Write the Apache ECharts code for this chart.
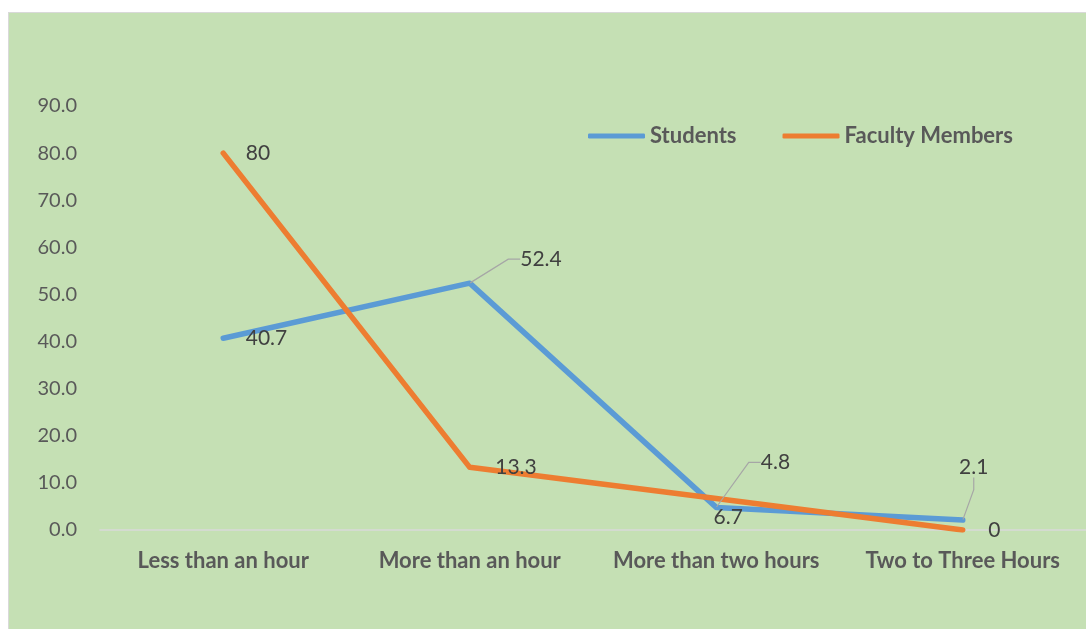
<!DOCTYPE html>
<html>
<head>
<meta charset="utf-8">
<script src="https://cdn.jsdelivr.net/npm/echarts@6/dist/echarts.min.js"></script>
<style>
  html, body { margin: 0; padding: 0; background: #ffffff; }
  #panel {
    position: absolute; left: 8px; top: 12px; width: 1078px; height: 616px;
    background: #C5E0B4; border-left: 1px solid #D9D9D9; border-top: 1px solid #D9D9D9;
  }
  #chart { position: absolute; left: 0; top: 0; width: 1086px; height: 630px; }
</style>
</head>
<body>
<div id="panel"></div>
<div id="chart"></div>
<script>
// Time spent per session, in percent
const categories = ['Less than an hour', 'More than an hour', 'More than two hours', 'Two to Three Hours'];
const students = [40.7, 52.4, 4.8, 2.1];
const faculty = [80, 13.3, 6.7, 0];
const seriesNames = ['Students', 'Faculty Members'];
const yTicks = { min: 0, max: 90, interval: 10 };

const FONT = 'Lato, "Open Sans", sans-serif';
const LABEL_COLOR = '#404040';
const AXIS_COLOR = '#595959';

// Placement of each value label (position + nudge), by series and index
const labelPlacement = [
  [
    { position: 'right', distance: 22 },
    { position: 'right', distance: 22, dx: 28, dy: -24, leader: true },
    { position: 'right', distance: 22, dx: 22, dy: -45, leader: true },
    { position: 'top', distance: 5, dx: 11, dy: -37, leader: true }
  ],
  [
    { position: 'right', distance: 22 },
    { position: 'right', distance: 25 },
    { position: 'bottom', distance: 8, dx: 12 },
    { position: 'right', distance: 25 }
  ]
];

function buildData(values, sIdx) {
  return values.map(function (v, i) {
    const p = labelPlacement[sIdx][i];
    return {
      value: v,
      label: { position: p.position, distance: p.distance },
      labelLine: { show: !!p.leader, length2: 12, lineStyle: { color: '#A6A6A6', width: 1.2 } }
    };
  });
}

function layoutFor(sIdx) {
  return function (params) {
    const p = labelPlacement[sIdx][params.dataIndex];
    return { dx: p.dx || 0, dy: p.dy || 0 };
  };
}

const colors = ['#5B9BD5', '#ED7D31'];

const chart = echarts.init(document.getElementById('chart'), null, { renderer: 'canvas' });
chart.setOption({
  backgroundColor: 'transparent',
  animation: false,
  color: colors,
  grid: { left: 100, top: 106, width: 994, height: 424, containLabel: false },
  legend: {
    left: 583, top: 120,
    itemWidth: 57, itemHeight: 5, itemGap: 46,
    icon: 'roundRect',
    textStyle: { fontFamily: FONT, fontWeight: 'bold', fontSize: 22, color: AXIS_COLOR, lineHeight: 22 },
    data: seriesNames
  },
  xAxis: {
    type: 'category',
    data: categories,
    boundaryGap: true,
    axisLine: { show: true, lineStyle: { color: '#D9D9D9', width: 1.5 } },
    axisTick: { show: false },
    axisLabel: {
      margin: 20, interval: 0,
      fontFamily: FONT, fontWeight: 'bold', fontSize: 22, color: AXIS_COLOR, lineHeight: 22
    },
    splitLine: { show: false }
  },
  yAxis: {
    type: 'value',
    min: yTicks.min, max: yTicks.max, interval: yTicks.interval,
    axisLine: { show: false },
    axisTick: { show: false },
    splitLine: { show: false },
    axisLabel: {
      margin: 23,
      fontFamily: FONT, fontSize: 20, color: AXIS_COLOR,
      formatter: function (v) { return v.toFixed(1); }
    }
  },
  series: [0, 1].map(function (sIdx) {
    return {
      name: seriesNames[sIdx],
      type: 'line',
      data: buildData(sIdx === 0 ? students : faculty, sIdx),
      showSymbol: true,
      symbol: 'circle',
      symbolSize: 1,
      lineStyle: { width: 5.5, cap: 'round', join: 'round', color: colors[sIdx] },
      itemStyle: { color: colors[sIdx] },
      label: {
        show: true,
        fontFamily: FONT, fontSize: 21, color: LABEL_COLOR,
        formatter: function (p) { return String(p.value); }
      },
      labelLayout: layoutFor(sIdx),
      emphasis: { disabled: true }
    };
  })
});
</script>
</body>
</html>
